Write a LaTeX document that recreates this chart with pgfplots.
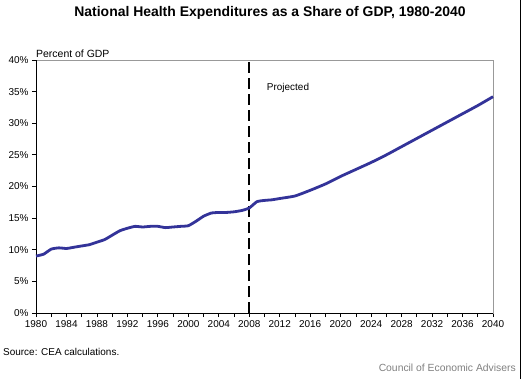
\documentclass[border=0pt]{standalone}
\usepackage{pgfplots}
\pgfplotsset{compat=1.18}
\usepackage{fontspec}
\setmainfont{Liberation Sans}
\definecolor{lineblue}{RGB}{51,51,153}
\begin{document}
\begin{tikzpicture}[x=1bp,y=1bp]
\useasboundingbox (0,0) rectangle (525,379);
\fill[white] (0,0) rectangle (525,379);
\draw[black,line width=1.5bp] (520.5,0) -- (520.5,379);
\node[font=\bfseries\fontsize{14}{16}\selectfont] at (270,366) {National Health Expenditures as a Share of GDP, 1980-2040};
\begin{axis}[
  at={(36bp,66bp)}, anchor=south west,
  scale only axis, width=457bp, height=253bp,
  xmin=1980, xmax=2040, ymin=0, ymax=40,
  xtick={1980,1984,...,2040},
  minor xtick={1982,1986,...,2038},
  ytick={0,5,...,40},
  yticklabel={\pgfmathprintnumber{\tick}\%},
  /pgf/number format/1000 sep={},
  /pgf/number format/assume math mode=true,
  tick label style={font=\fontsize{10}{11}\selectfont},
  tick align=outside,
  major tick length=4bp, minor tick length=4bp,
  xtick pos=bottom, ytick pos=left,
  tick style={black, line width=0.8bp},
  axis line style={draw=gray!80, line width=0.8bp},
  clip=false,
]
\draw[black, line width=0.9bp] (rel axis cs:0,0) -- (rel axis cs:0,1);
\draw[black, line width=0.9bp] (rel axis cs:0,0) -- (rel axis cs:1,0);
\draw[black, line width=2.2bp, dash pattern=on 11bp off 5bp] (axis cs:2008,0) -- (axis cs:2008,40);
\addplot[lineblue, line width=2.8bp, smooth, tension=0.3] coordinates {
(1980,9.0) (1981,9.3) (1982,10.1) (1983,10.3) (1984,10.2) (1985,10.4)
(1986,10.6) (1987,10.8) (1988,11.2) (1989,11.6) (1990,12.3) (1991,13.0)
(1992,13.4) (1993,13.7) (1994,13.6) (1995,13.7) (1996,13.7) (1997,13.5)
(1998,13.6) (1999,13.7) (2000,13.8) (2001,14.5) (2002,15.3) (2003,15.8)
(2004,15.9) (2005,15.9) (2006,16.0) (2007,16.2) (2008,16.6) (2009,17.6)
(2010,17.8) (2011,17.9) (2012,18.1) (2014,18.5) (2016,19.4) (2018,20.4)
(2020,21.6) (2022,22.7) (2024,23.8) (2026,25.0) (2028,26.3) (2030,27.6)
(2032,28.9) (2034,30.2) (2036,31.5) (2038,32.8) (2040,34.2)
};
\node[anchor=west, inner sep=0pt, font=\fontsize{10}{11}\selectfont] at (axis cs:2010.3,35.6) {Projected};
\node[anchor=south west, inner sep=0pt, font=\fontsize{10.5}{11}\selectfont] at ([yshift=2bp]rel axis cs:0,1) {Percent of GDP};
\end{axis}
\node[anchor=west, inner sep=0pt, font=\fontsize{10}{11}\selectfont] at (3,27) {Source: CEA calculations.};
\node[anchor=east, inner sep=0pt, text=gray, font=\fontsize{10.4}{11}\selectfont] at (516,11) {Council of Economic Advisers};
\end{tikzpicture}
\end{document}
